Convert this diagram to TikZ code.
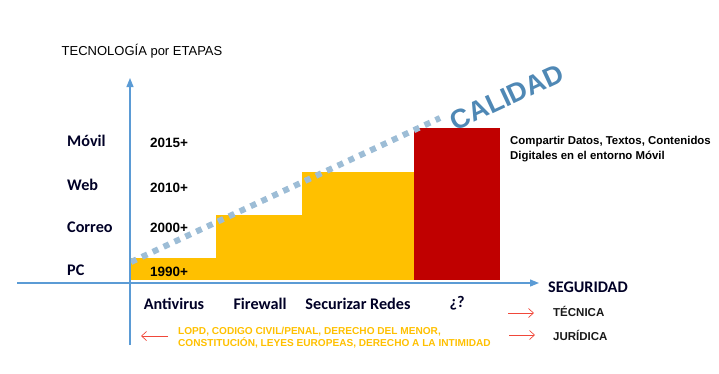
\documentclass[tikz,border=0pt]{standalone}
\usepackage{fontspec}
\setmainfont{Liberation Sans}
\newfontfamily\calib{Carlito}
\usetikzlibrary{arrows.meta}
\definecolor{axisblue}{HTML}{5B9BD5}
\definecolor{barYellow}{HTML}{FFC000}
\definecolor{barRed}{HTML}{C00000}
\definecolor{dashBlue}{HTML}{9DBDD6}
\definecolor{calBlue}{HTML}{4F88B5}
\definecolor{arrRed}{HTML}{F0483A}
\tikzset{
  axisline/.style={draw=axisblue, line width=1.2pt},
  bar/.style={draw=none, minimum width=0, inner sep=0},
  cal/.style={font=\calib\bfseries\fontsize{16.2}{18}\selectfont, inner sep=0, text=black!85!blue},
  year/.style={font=\bfseries\fontsize{13.5}{15}\selectfont, inner sep=0},
  rarrow/.style={draw=arrRed, line width=0.7pt, -{Straight Barb[length=5pt,width=9pt]}},
  lab/.style={inner sep=0, align=left},
}
\begin{document}
\begin{tikzpicture}[x=1pt,y=-1pt]
\useasboundingbox (0,0) rectangle (719,373);
% bars
\fill[barYellow] (130,258) rectangle (216,280);
\fill[barYellow] (216,215) rectangle (302,280);
\fill[barYellow] (302,172) rectangle (414,280);
\fill[barRed] (414,128) rectangle (500,280);
% dashed quality line
\coordinate (dA) at (131,262);
\coordinate (dB) at (440,118);
\draw[dashBlue, line width=6pt, dash pattern=on 6pt off 6pt] (dA) -- (dB);
\node[rotate=25, text=calBlue, font=\bfseries\fontsize{27}{30}\selectfont, inner sep=0] (cal) at (507,97) {CALIDAD};
% axes
\coordinate (ytop) at (130,78);
\coordinate (ybot) at (130,345);
\coordinate (xleft) at (17,283);
\coordinate (xright) at (539,283);
\draw[axisline, -{Triangle[length=9pt,width=7pt]}] (ybot) -- (ytop);
\draw[axisline, -{Triangle[length=9pt,width=7pt]}] (xleft) -- (xright);
% title
\node[inner sep=0, font=\fontsize{13}{15}\selectfont] (title) at (142,51) {TECNOLOGÍA por ETAPAS};
% left labels
\node[cal, anchor=west] (movil) at (67,141) {Móvil};
\node[cal, anchor=west] (web) at (67,185) {Web};
\node[cal, anchor=west] (correo) at (67,227) {Correo};
\node[cal, anchor=west] (pc) at (67,270) {PC};
% years
\node[year, anchor=west] (y15) at (150,143) {2015+};
\node[year, anchor=west] (y10) at (150,188) {2010+};
\node[year, anchor=west] (y00) at (150,228) {2000+};
\node[year, anchor=west] (y90) at (150,272) {1990+};
% bottom labels
\node[cal] (anti) at (174,304) {Antivirus};
\node[cal] (fire) at (260,304) {Firewall};
\node[cal] (secu) at (358,304) {Securizar Redes};
\node[cal] (q) at (457,303) {¿?};
\node[cal, anchor=west] (seg) at (548,287) {SEGURIDAD};
% right text
\node[lab, anchor=north west, font=\bfseries\fontsize{11.4}{15}\selectfont] (comp) at (510,136) {Compartir Datos, Textos, Contenidos\\Digitales en el entorno Móvil};
% tecnica / juridica
\node[lab, anchor=west, font=\bfseries\fontsize{11.5}{13}\selectfont, text=black!90] (tec) at (553,311) {TÉCNICA};
\node[lab, anchor=west, font=\bfseries\fontsize{11.5}{13}\selectfont, text=black!90] (jur) at (553,335) {JURÍDICA};
\coordinate (a1s) at (508,313);
\coordinate (a1e) at (534,313);
\coordinate (a2s) at (509,335);
\coordinate (a2e) at (535,335);
\coordinate (a3s) at (168,336);
\coordinate (a3e) at (141,336);
\draw[rarrow] (a1s) -- (a1e);
\draw[rarrow] (a2s) -- (a2e);
\draw[rarrow] (a3s) -- (a3e);
\node[lab, anchor=north west, text=barYellow, font=\bfseries\fontsize{10.1}{12}\selectfont] (law) at (178,327) {LOPD, CODIGO CIVIL/PENAL, DERECHO DEL MENOR,\\CONSTITUCIÓN, LEYES EUROPEAS, DERECHO A LA INTIMIDAD};
\end{tikzpicture}
\end{document}
